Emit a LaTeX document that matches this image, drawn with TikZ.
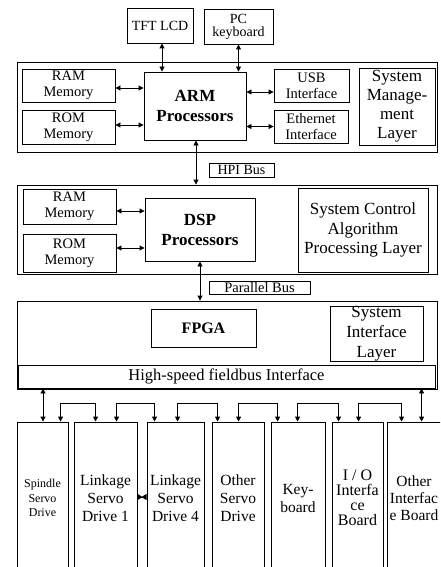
\documentclass[tikz,border=0pt]{standalone}
\usepackage{fontspec}
\setmainfont{Liberation Serif}
\usetikzlibrary{arrows.meta}
\tikzset{
  box/.style={draw, line width=0.9pt, inner sep=0pt, align=center},
  wh/.style 2 args={minimum width=#1pt, minimum height=#2pt},
  biarr/.style={line width=0.9pt, {Triangle[length=5pt,width=5pt]}-{Triangle[length=5pt,width=5pt]}},
  memf/.style={font=\fontsize{14.5}{16}\selectfont},
  procf/.style={font=\bfseries\fontsize{17}{20}\selectfont},
  layf/.style={font=\fontsize{17}{19.5}\selectfont},
  busf/.style={font=\fontsize{14}{14}\selectfont},
  botf/.style={font=\fontsize{15.5}{18}\selectfont},
}
\begin{document}
\begin{tikzpicture}[x=1pt,y=-1pt]
\useasboundingbox (0,0) rectangle (440,567);
\clip (0,0) rectangle (440,567);
% top devices
\node[box,wh={66}{35},font=\fontsize{14}{13}\selectfont] (tft) at (160,25.5) {TFT LCD};
\node[box,wh={69}{35},font=\fontsize{14}{13}\selectfont] (pck) at (238.5,26.5) {PC\\keyboard};
% ARM layer
\node[box,wh={420}{90}] (arml) at (227,107) {};
\node[box,wh={93}{33},memf] (ram1) at (68.5,85.5) {RAM\\Memory};
\node[box,wh={93}{34},memf] (rom1) at (68.5,127) {ROM\\Memory};
\node[box,wh={102}{68},procf] (arm) at (195,106) {ARM\\Processors};
\node[box,wh={75}{33},memf] (usb) at (311.5,85.5) {USB\\Interface};
\node[box,wh={74}{33},memf] (eth) at (311,126.5) {Ethernet\\Interface};
\node[box,wh={76}{77},font=\fontsize{17}{19}\selectfont] (sml) at (397,106.5) {System\\Manage-\\ment\\Layer};
% HPI
\node[box,wh={65}{14},busf] (hpi) at (241.5,170) {HPI Bus};
% DSP layer
\node[box,wh={420}{89}] (dspl) at (227,229.5) {};
\node[box,wh={93}{35},memf] (ram2) at (69.5,206.5) {RAM\\Memory};
\node[box,wh={93}{38},memf] (rom2) at (69.5,253) {ROM\\Memory};
\node[box,wh={110}{63},procf] (dsp) at (200,229.5) {DSP\\Processors};
\node[box,wh={130}{84},layf] (scl) at (363,230) {System Control\\Algorithm\\Processing Layer};
% Parallel bus
\node[box,wh={101}{13},font=\fontsize{14.5}{14}\selectfont] (pbus) at (259.5,287.5) {Parallel Bus};
% FPGA layer
\node[box,wh={420}{88}] (fpgal) at (227,345) {};
\node[box,wh={105}{38},font=\bfseries\fontsize{16}{18}\selectfont] (fpga) at (203.5,328) {FPGA};
\node[box,wh={93}{55},font=\fontsize{17}{20}\selectfont] (sil) at (376.5,333.5) {System\\Interface\\Layer};
\node[box,wh={417}{23},font=\fontsize{16.5}{18}\selectfont] (fb) at (226.5,376.5) {High-speed fieldbus Interface};
% bottom boards
\node[box,wh={51}{152},font=\fontsize{12}{14.5}\selectfont] (b1) at (42.5,498) {Spindle\\Servo\\Drive};
\node[box,wh={63}{152},botf] (b2) at (105.5,498) {Linkage\\Servo\\Drive 1};
\node[box,wh={57}{152},botf] (b3) at (175.5,498) {Linkage\\Servo\\Drive 4};
\node[box,wh={52}{152},botf] (b4) at (238,498) {Other\\Servo\\Drive};
\node[box,wh={54}{152},botf] (b5) at (298,498) {Key-\\board};
\node[box,wh={51}{152},font=\fontsize{16}{15}\selectfont] (b6) at (357.5,498) {I / O\\Interfa\\ce\\Board};
\node[box,wh={54}{152},font=\fontsize{15.5}{17}\selectfont] (b7) at (414,498) {Other\\Interfac\\e Board};
% ARM connections
\draw[biarr] ([xshift=2pt]tft.south) -- ([xshift=2pt]tft.south |- arm.north);
\draw[biarr] (pck.south) -- (pck.south |- arm.north);
\draw[biarr] ([yshift=-2.5pt]ram1.east) -- ([yshift=-2.5pt]ram1.east -| arm.west);
\draw[biarr] ([yshift=2pt]rom1.east) -- ([yshift=2pt]rom1.east -| arm.west);
\draw[biarr] ([yshift=-6.5pt]usb.west) -- ([yshift=-6.5pt]usb.west -| arm.east);
\draw[biarr] (eth.west) -- (eth.west -| arm.east);
\draw[biarr] ([xshift=1pt]arm.south) -- ([xshift=1pt]arm.south |- dspl.north);
% DSP connections
\draw[biarr] ([yshift=-4.5pt]ram2.east) -- ([yshift=-4.5pt]ram2.east -| dsp.west);
\draw[biarr] ([yshift=5pt]rom2.east) -- ([yshift=5pt]rom2.east -| dsp.west);
\draw[biarr] (dsp.south) -- (dsp.south |- fpgal.north);
% fieldbus connections
\draw[biarr] ([xshift=0.5pt]b1.north) -- ([xshift=0.5pt]b1.north |- fb.south);
\draw[biarr] ([xshift=35pt]b7.north west) -- ([xshift=35pt]b7.north west |- fb.south);
\draw[biarr] ([xshift=44pt]b1.north west) -- ++(0,-18) -| ([xshift=22pt]b2.north west);
\draw[biarr] ([xshift=43pt]b2.north west) -- ++(0,-18) -| ([xshift=8pt]b3.north west);
\draw[biarr] ([xshift=31pt]b3.north west) -- ++(0,-18) -| ([xshift=6pt]b4.north west);
\draw[biarr] ([xshift=27pt]b4.north west) -- ++(0,-18) -| ([xshift=7pt]b5.north west);
\draw[biarr] ([xshift=27pt]b5.north west) -- ++(0,-18) -| ([xshift=7pt]b6.north west);
\draw[biarr] ([xshift=27pt]b6.north west) -- ++(0,-18) -| ([xshift=15pt]b7.north west);
\draw[line width=0.9pt, {Triangle[reversed,length=5pt,width=6pt]}-{Triangle[reversed,length=5pt,width=6pt]}] ([yshift=1pt]b2.east) -- ([yshift=1pt]b3.west);
\end{tikzpicture}
\end{document}
